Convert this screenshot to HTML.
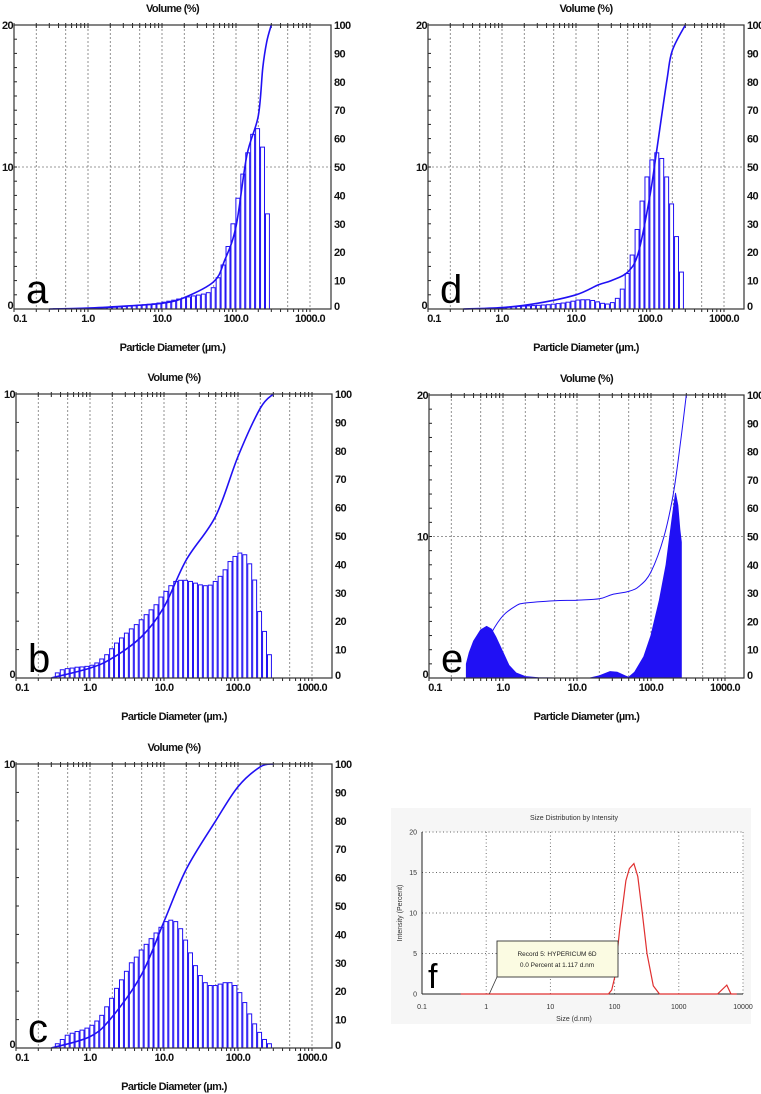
<!DOCTYPE html>
<html><head><meta charset="utf-8"><style>
html,body{margin:0;padding:0;background:#fff;}
svg{display:block;font-family:"Liberation Sans",sans-serif;}
.tk{font-size:11px;font-weight:bold;letter-spacing:-0.6px;fill:#111;}
</style></head><body>
<svg id="fig" width="761" height="1094" viewBox="0 0 761 1094" xmlns="http://www.w3.org/2000/svg"></svg>
<script>
// ---- data ----
const binStart = 0.335, binsPerDecade = 15;
const barsA = [0.02,0.02,0.02,0.03,0.03,0.04,0.04,0.05,0.06,0.07,0.08,0.1,0.12,0.14,0.17,0.2,0.23,0.27,0.3,0.33,0.37,0.42,0.48,0.55,0.62,0.7,0.78,0.85,0.92,0.98,1.05,1.15,1.5,2.2,3.1,4.4,6.0,7.8,9.5,11.0,12.3,12.7,11.4,6.7];
const barsB = [0.18,0.29,0.33,0.35,0.38,0.39,0.41,0.45,0.53,0.67,0.82,1.03,1.23,1.41,1.58,1.73,1.88,2.05,2.23,2.40,2.58,2.85,3.05,3.25,3.40,3.44,3.44,3.40,3.34,3.28,3.25,3.27,3.40,3.58,3.81,4.10,4.28,4.40,4.34,4.02,3.45,2.34,1.64,0.82];
const barsC = [0.15,0.3,0.45,0.52,0.58,0.63,0.7,0.8,0.95,1.15,1.45,1.75,2.1,2.4,2.7,3.0,3.2,3.45,3.65,3.85,4.05,4.25,4.45,4.5,4.45,4.2,3.8,3.35,2.9,2.55,2.3,2.2,2.2,2.25,2.3,2.3,2.2,1.95,1.6,1.2,0.85,0.55,0.3,0.15];
const barsD = [0,0,0.01,0.01,0.02,0.03,0.05,0.08,0.12,0.15,0.18,0.2,0.22,0.24,0.26,0.28,0.3,0.34,0.38,0.42,0.48,0.55,0.63,0.65,0.65,0.6,0.5,0.4,0.35,0.45,0.75,1.4,2.5,3.8,5.6,7.6,9.3,10.5,11.0,10.6,9.3,7.4,5.1,2.6];
const cumSizesA = [0.3,1,3,10,20,50,70,100,140,200,230,260,300];
const cumA = [0,0.3,1,2,4,9.6,17,29,54,68,85,94,100];
const cumSizesB = [0.3,1,2,5,10,20,50,100,200,300];
const cumB = [0,3.5,7,14.6,25,41.6,57,78,95,100];
const cumSizesC = [0.3,1,2,5,10,20,50,100,200,300];
const cumC = [0,4,11,26,44.5,63,80,92,99,100];
const cumSizesD = [0.3,1,3,10,20,30,50,70,100,125,170,200,300];
const cumD = [0,0.5,2,5,8.5,10,13,20,40,57,81,91,100];
const areaSizesE = [0.32,0.32,0.35,0.4,0.5,0.6,0.7,0.8,1.0,1.2,1.5,2,3,5,15,20,28,35,45,50,60,80,100,130,160,190,214,230,245,257,257];
const areaE = [0,1.0,1.8,2.6,3.4,3.65,3.45,2.9,1.8,0.9,0.35,0.1,0.02,0,0,0.15,0.45,0.4,0.15,0.05,0.4,1.5,3,5.5,8,11,13.05,12.2,10.5,9.6,0];
const cumSizesE = [0.32,0.5,0.7,1.0,1.5,2,5,10,20,30,50,70,100,150,200,250,300];
const cumE = [0,8,16,22,25.5,26.5,27.3,27.5,28,29.5,30.6,32.5,37.5,50,65,83,100];
const xTickLabels = ["0.1","1.0","10.0","100.0","1000.0"];
const rightTickLabels = ["0","10","20","30","40","50","60","70","80","90","100"];
const fSizes = [0.4,80,90,100,120,150,170,200,230,270,320,400,500,4000,5600,6500,8000];
const fIntensity = [0,0,0.5,2,8,14,15.5,16.1,14.5,10,5,1,0,0,1.1,0,0];
const fXLabels = ["0.1","1","10","100","1000","10000"];
const fYLabels = ["0","5","10","15","20"];

const NS = "http://www.w3.org/2000/svg";
const svg = document.getElementById('fig');
const BLUE = "#2010f4";
function mk(tag, attrs, parent) {
  const e = document.createElementNS(NS, tag);
  for (const k in attrs) e.setAttribute(k, attrs[k]);
  (parent || svg).appendChild(e);
  return e;
}
function smooth(pts) {
  let d = 'M' + pts[0][0].toFixed(1) + ',' + pts[0][1].toFixed(1);
  for (let i = 0; i < pts.length - 1; i++) {
    const p0 = pts[Math.max(0, i - 1)], p1 = pts[i], p2 = pts[i + 1], p3 = pts[Math.min(pts.length - 1, i + 2)];
    const c1x = p1[0] + (p2[0] - p0[0]) / 6, c1y = p1[1] + (p2[1] - p0[1]) / 6;
    const c2x = p2[0] - (p3[0] - p1[0]) / 6, c2y = p2[1] - (p3[1] - p1[1]) / 6;
    d += ' C' + c1x.toFixed(1) + ',' + c1y.toFixed(1) + ' ' + c2x.toFixed(1) + ',' + c2y.toFixed(1) + ' ' + p2[0].toFixed(1) + ',' + p2[1].toFixed(1);
  }
  return d;
}

function panel(p) {
  const g = mk('g', {});
  
  
  const H = p.B - p.T, DEC = 74;
  const xs = v => p.L + (Math.log10(v) + 1) * DEC;
  const ys = v => p.B - v / p.ymax * H;
  const yr = v => p.B - v / 100 * H;
  [0.2,0.5,1,2,5,10,20,50,100,200,500,1000].forEach(v => {
    const l = mk('line', {x1: xs(v), x2: xs(v), y1: p.T, y2: p.B, stroke: '#777', 'stroke-width': 0.8, 'stroke-dasharray': '2,2'}, g);
    
    
  });
  if (p.ymax === 20) {
    const hl = mk('line', {x1: p.L, x2: p.R, y1: ys(10), y2: ys(10), stroke: '#777', 'stroke-width': 0.8, 'stroke-dasharray': '2,2'}, g);
    
    
  }
  for (let d = -1; d < 4; d++) for (let m = 1; m < 10; m++) {
    const v = m * Math.pow(10, d), x = xs(v);
    if (x > p.R) continue;
    const t1 = mk('line', {x1: x, x2: x, y1: p.T - 2, y2: p.T + 3, stroke: '#222', 'stroke-width': 1}, g);
    
    
    const t2 = mk('line', {x1: x, x2: x, y1: p.B, y2: p.B + 3, stroke: '#222', 'stroke-width': 1}, g);
    
    
  }
  for (let i = 0; i <= p.ymax; i++) {
    const t = mk('line', {x1: p.L, x2: p.L + 3, y1: ys(i), y2: ys(i), stroke: '#222', 'stroke-width': 1}, g);
    
    
  }
  if (p.bars) {
    p.bars.forEach((v, i) => {
      if (v <= 0) return;
      const lo = binStart * Math.pow(10, i / binsPerDecade), hi = binStart * Math.pow(10, (i + 1) / binsPerDecade);
      const r = mk('rect', {x: xs(lo) + 0.5, y: ys(v), width: xs(hi) - xs(lo) - 1, height: p.B - ys(v), fill: '#fff', stroke: BLUE, 'stroke-width': 1}, g);
      
      
    });
  }
  const cpts = p.cumS.map((s, i) => [xs(s), yr(p.cum[i])]);
  const cl = mk('path', {d: smooth(cpts), fill: 'none', stroke: BLUE, 'stroke-width': p.area ? 1 : 1.6}, g);
  
  
  if (p.area) {
    const ap = p.areaS.map((s, i) => xs(s).toFixed(1) + ',' + ys(p.area[i]).toFixed(1)).join(' ');
    const a = mk('polygon', {points: ap, fill: BLUE, stroke: BLUE, 'stroke-width': 1, 'stroke-linejoin': 'round'}, g);
    
    
  }
  const fr = mk('rect', {x: p.L, y: p.T, width: p.R - p.L, height: H, fill: 'none', stroke: '#333', 'stroke-width': 1.2}, g);
  
  
  xTickLabels.forEach((s, i) => {
    const t = mk('text', {x: xs(Math.pow(10, i - 1)) + (i === 0 ? 6 : 0), y: p.B + 13, 'text-anchor': 'middle', class: 'tk'}, g);
    t.textContent = s;
    
    
  });
  rightTickLabels.forEach((s, i) => {
    const t = mk('text', {x: p.R + 3, y: yr(i * 10) + 4 + (i === 0 ? -3 : 0), class: 'tk'}, g);
    t.textContent = s;
    
    
  });
  const leftVals = p.ymax === 20 ? [0, 10, 20] : [0, 10];
  leftVals.forEach(v => {
    const t = mk('text', {x: p.L - 1, y: ys(v) + (v === 0 ? 0 : 4), 'text-anchor': 'end', class: 'tk'}, g);
    t.textContent = String(v);
    
    
  });
  const tt = mk('text', {x: (p.L + p.R) / 2, y: p.T - 13, 'text-anchor': 'middle', class: 'tk'}, g);
  tt.textContent = 'Volume (%)';
  
  
  const xt = mk('text', {x: (p.L + p.R) / 2, y: p.B + 42, 'text-anchor': 'middle', class: 'tk'}, g);
  xt.textContent = 'Particle Diameter (µm.)';
  
  
  const lt = mk('text', {x: p.L + 12, y: p.B - 6, 'font-size': 40, fill: '#000'}, g);
  lt.textContent = p.id;
  
  
}

panel({id: 'a', L: 14, T: 25, R: 331, B: 309, ymax: 20, bars: barsA, cumS: cumSizesA, cum: cumA});
panel({id: 'd', L: 428, T: 25, R: 744, B: 309, ymax: 20, bars: barsD, cumS: cumSizesD, cum: cumD});
panel({id: 'b', L: 16, T: 394, R: 332, B: 678, ymax: 10, bars: barsB, cumS: cumSizesB, cum: cumB});
panel({id: 'e', L: 429, T: 395, R: 744, B: 678, ymax: 20, areaS: areaSizesE, area: areaE, cumS: cumSizesE, cum: cumE});
panel({id: 'c', L: 16, T: 764, R: 332, B: 1048, ymax: 10, bars: barsC, cumS: cumSizesC, cum: cumC});

(function () {
  const g = mk('g', {});
  
  
  const L = 422, R = 743, T = 832, B = 994, DEC = 64.2;
  const xs = v => L + (Math.log10(v) + 1) * DEC;
  const ys = v => B - v / 20 * (B - T);
  const bg = mk('rect', {x: 391, y: 808, width: 360, height: 216, fill: '#f6f6f6'}, g);
  
  
  const pa = mk('rect', {x: L, y: T, width: R - L, height: B - T, fill: '#fff'}, g);
  
  
  [1, 10, 100, 1000, 10000].forEach(v => {
    const l = mk('line', {x1: xs(v), x2: xs(v), y1: T, y2: B, stroke: '#666', 'stroke-width': 0.9, 'stroke-dasharray': '1,2.5'}, g);
    
    
  });
  [5, 10, 15, 20].forEach(v => {
    const l = mk('line', {x1: L, x2: R, y1: ys(v), y2: ys(v), stroke: '#666', 'stroke-width': 0.9, 'stroke-dasharray': '1,2.5'}, g);
    
    
  });
  const ax = mk('line', {x1: L, x2: L, y1: T, y2: B, stroke: '#222', 'stroke-width': 1}, g);
  
  
  const bx = mk('line', {x1: L, x2: R, y1: B, y2: B, stroke: '#222', 'stroke-width': 1}, g);
  
  
  const fp = fSizes.map((s, i) => xs(s).toFixed(1) + ',' + ys(fIntensity[i]).toFixed(1)).join(' ');
  const cv = mk('polyline', {points: fp, fill: 'none', stroke: '#e03030', 'stroke-width': 1.2}, g);
  
  
  fXLabels.forEach((s, i) => {
    const t = mk('text', {x: xs(Math.pow(10, i - 1)), y: B + 15, 'text-anchor': 'middle', 'font-size': 7, fill: '#333'}, g);
    t.textContent = s;
    
    
  });
  fYLabels.forEach((s, i) => {
    const t = mk('text', {x: L - 5, y: ys(i * 5) + 2.5, 'text-anchor': 'end', 'font-size': 7, fill: '#333'}, g);
    t.textContent = s;
    
    
  });
  const ti = mk('text', {x: 574, y: 820, 'text-anchor': 'middle', 'font-size': 7, fill: '#333'}, g);
  ti.textContent = 'Size Distribution by Intensity';
  
  
  const xl = mk('text', {x: 574, y: 1021, 'text-anchor': 'middle', 'font-size': 7, fill: '#333'}, g);
  xl.textContent = 'Size (d.nm)';
  
  
  const yl = mk('text', {x: 402, y: 913, 'text-anchor': 'middle', 'font-size': 7, fill: '#333', transform: 'rotate(-90 402 913)'}, g);
  yl.textContent = 'Intensity (Percent)';
  
  
  const pl = mk('line', {x1: 497, y1: 977, x2: xs(1.117), y2: B, stroke: '#333', 'stroke-width': 0.8}, g);
  
  
  const cb = mk('rect', {x: 497, y: 941, width: 121, height: 36, fill: '#fbfbe2', stroke: '#333', 'stroke-width': 0.9}, g);
  
  
  const c1 = mk('text', {x: 557, y: 956, 'text-anchor': 'middle', 'font-size': 6.5, fill: '#222'}, g);
  c1.textContent = 'Record 5: HYPERICUM 6D';
  
  
  const c2 = mk('text', {x: 557, y: 967, 'text-anchor': 'middle', 'font-size': 6.5, fill: '#222'}, g);
  c2.textContent = '0.0 Percent at 1.117 d.nm';
  
  
  const fl = mk('text', {x: 428, y: 988, 'font-size': 34, fill: '#000'}, g);
  fl.textContent = 'f';
  
  
})();
</script>
</body></html>
